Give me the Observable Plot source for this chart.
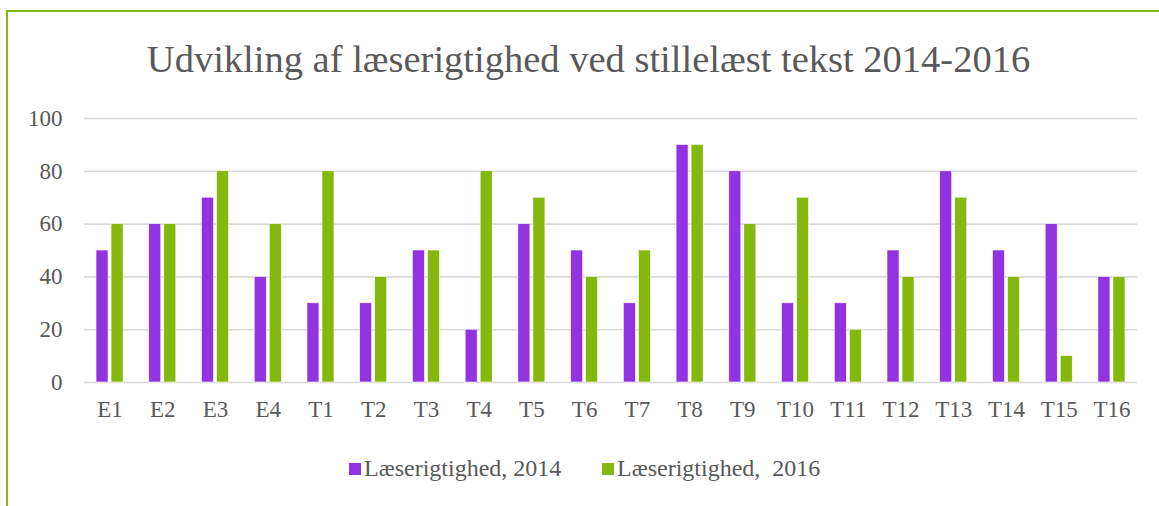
<!DOCTYPE html>
<html>
<head>
<meta charset="utf-8">
<script src="https://cdn.jsdelivr.net/npm/d3@7"></script>
<script src="https://cdn.jsdelivr.net/npm/@observablehq/plot@0.6"></script>
<style>
  html, body { margin: 0; padding: 0; background: #fff; }
  #wrap { position: relative; width: 1159px; height: 506px; overflow: hidden; font-family: "Liberation Serif", "DejaVu Serif", serif; color: #595959; }
  #frame { position: absolute; left: 6px; top: 10px; width: 1200px; height: 600px; border-top: 2px solid #84b819; border-left: 2px solid #84b819; }
  #title { position: absolute; left: 9px; width: 1159px; top: 40px; text-align: center; font-size: 38.5px; line-height: 38px; white-space: nowrap; }
  .layer { position: absolute; left: 0; top: 0; }
  #legend { position: absolute; top: 455px; left: 0; width: 1159px; height: 26px; font-size: 24px; line-height: 26px; white-space: nowrap; }
  .item { position: absolute; top: 0; }
  .sw { display: inline-block; width: 12px; height: 12px; margin-right: 3px; vertical-align: 1px; }
</style>
</head>
<body>
<div id="wrap">
  <div id="frame"></div>
  <div id="title">Udvikling af læserigtighed ved stillelæst tekst 2014-2016</div>
  <div id="bg" class="layer"></div>
  <div id="fg" class="layer"></div>
  <div id="legend"></div>
</div>
<script>
const categories = ["E1","E2","E3","E4","T1","T2","T3","T4","T5","T6","T7","T8","T9","T10","T11","T12","T13","T14","T15","T16"];
const seriesNames = ["Læserigtighed, 2014", "Læserigtighed,  2016"];
const values2014 = [50,60,70,40,30,30,50,20,60,50,30,90,80,30,30,50,80,50,60,40];
const values2016 = [60,60,80,60,80,40,50,80,70,40,50,90,60,70,20,40,70,40,10,40];
const yTicks = [0,20,40,60,80,100];
const colors = ["#9133e0", "#84b80c"];

const data = categories.flatMap((c, i) => [
  {cat: c, series: seriesNames[0], value: values2014[i]},
  {cat: c, series: seriesNames[1], value: values2016[i]}
]);

const W = 1159, H = 506;
const margins = {marginTop: 118, marginBottom: 124, marginLeft: 84, marginRight: 22};
const font = {fontFamily: "Liberation Serif, serif", fontSize: 23};

// Background layer: gridlines and y axis
const bg = Plot.plot({
  width: W, height: H, ...margins,
  style: {background: "transparent", color: "#595959", ...font, overflow: "visible"},
  x: {domain: categories, axis: null},
  y: {domain: [0, 100], label: null},
  marks: [
    Plot.gridY(yTicks, {stroke: "#d9d9d9", strokeOpacity: 1, strokeWidth: 1.6}),
    Plot.axisY(yTicks, {tickSize: 0, tickPadding: 22, label: null, fill: "#595959", fontSize: 23})
  ]
});
document.getElementById("bg").appendChild(bg);

// Foreground: grouped bars via fx facets
const fg = Plot.plot({
  width: W, height: H, ...margins,
  style: {background: "transparent", color: "#595959", ...font, overflow: "visible"},
  fx: {domain: categories, paddingInner: 0.487, paddingOuter: 0.228, round: false, label: null},
  x: {domain: seriesNames, axis: null, paddingInner: 0.2, paddingOuter: 0, round: false},
  y: {domain: [0, 100], axis: null},
  color: {domain: seriesNames, range: colors},
  marks: [
    Plot.axisFx({anchor: "bottom", tickSize: 0, tickPadding: 18, label: null, fill: "#595959", fontSize: 23}),
    Plot.barY(data, {fx: "cat", x: "series", y: "value", fill: "series", stroke: "white", strokeWidth: 0.6})
  ]
});
document.getElementById("fg").appendChild(fg);

// Legend
const legend = document.getElementById("legend");
const legendLefts = [349, 602];
seriesNames.forEach((name, i) => {
  const item = document.createElement("div");
  item.className = "item";
  item.style.left = legendLefts[i] + "px";
  const sw = document.createElement("span");
  sw.className = "sw";
  sw.style.background = colors[i];
  item.appendChild(sw);
  const t = document.createElement("span");
  t.textContent = name;
  t.style.whiteSpace = "pre";
  item.appendChild(t);
  legend.appendChild(item);
});
</script>
</body>
</html>
